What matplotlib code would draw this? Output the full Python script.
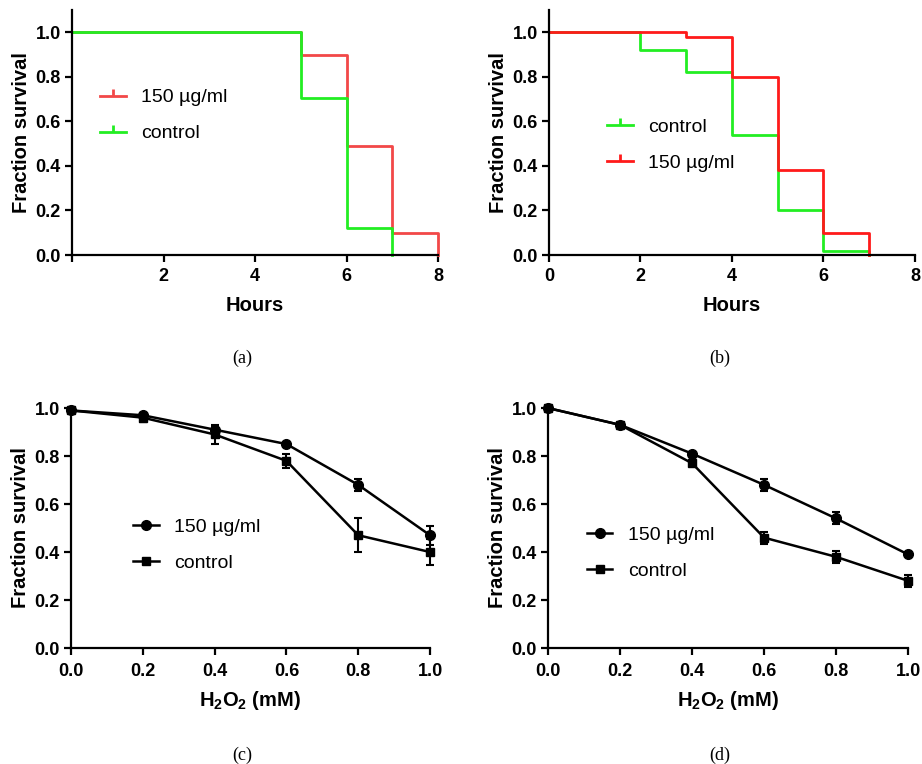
import numpy as np
import matplotlib
import matplotlib.pyplot as plt
from matplotlib.lines import Line2D

plt.rcParams['font.family'] = ['Liberation Sans', 'DejaVu Sans']
plt.rcParams['mathtext.fontset'] = 'custom'
plt.rcParams['mathtext.rm'] = 'Liberation Sans'
plt.rcParams['mathtext.bf'] = 'Liberation Sans:bold'

# (a) survival over time
a_t_treat = [0, 5, 6, 7, 8]
a_s_treat = [1.0, 0.90, 0.49, 0.10, 0.0]
a_t_ctrl = [0, 5, 6, 7]
a_s_ctrl = [1.0, 0.705, 0.12, 0.0]

# (b) survival over time
b_t_treat = [0, 3, 4, 5, 6, 7]
b_s_treat = [1.0, 0.98, 0.80, 0.38, 0.10, 0.0]
b_t_ctrl = [0, 2, 3, 4, 5, 6, 7]
b_s_ctrl = [1.0, 0.92, 0.82, 0.54, 0.20, 0.02, 0.0]

# (c), (d) H2O2 dose response
dose = [0.0, 0.2, 0.4, 0.6, 0.8, 1.0]
c_treat = [0.99, 0.97, 0.91, 0.85, 0.68, 0.47]
c_treat_err = [0.005, 0.01, 0.012, 0.008, 0.025, 0.04]
c_ctrl = [0.99, 0.96, 0.89, 0.78, 0.47, 0.40]
c_ctrl_err = [0.005, 0.02, 0.04, 0.03, 0.07, 0.055]
d_treat = [1.0, 0.93, 0.81, 0.68, 0.54, 0.39]
d_treat_err = [0.003, 0.005, 0.008, 0.025, 0.025, 0.008]
d_ctrl = [1.0, 0.93, 0.77, 0.46, 0.38, 0.28]
d_ctrl_err = [0.003, 0.005, 0.01, 0.025, 0.025, 0.025]

red_a = '#f24848'
red_b = '#ff1a1a'
green = '#22ee22'
ticklabs = ['0.0', '0.2', '0.4', '0.6', '0.8', '1.0']

fig = plt.figure(figsize=(9.22, 7.64), dpi=100)
ax_a = fig.add_axes([0.0781, 0.6662, 0.397, 0.3207])
ax_b = fig.add_axes([0.5954, 0.6662, 0.397, 0.3207])
ax_c = fig.add_axes([0.0770, 0.1518, 0.3894, 0.3141])
ax_d = fig.add_axes([0.5944, 0.1518, 0.3905, 0.3141])


def style(ax, xpad=3):
    for s in ['top', 'right']:
        ax.spines[s].set_visible(False)
    for s in ['left', 'bottom']:
        ax.spines[s].set_linewidth(1.6)
    ax.tick_params(width=1.6, length=5, labelsize=13, pad=3)
    ax.tick_params(axis='x', pad=xpad)
    for lab in ax.get_xticklabels() + ax.get_yticklabels():
        lab.set_fontweight('bold')
    ax.set_ylabel('Fraction survival', fontsize=14.5, fontweight='bold', labelpad=3)


def legend(ax, handles, labels, loc):
    ax.legend(handles, labels, loc='upper left', bbox_to_anchor=loc,
              frameon=False, fontsize=14, handlelength=1.3, handletextpad=0.8,
              labelspacing=0.95)


def km_handles(colors):
    return [Line2D([], [], color=c, lw=2, marker=2, markersize=5, markeredgewidth=2)
            for c in colors]


# (a)
ax_a.step(a_t_treat, a_s_treat, where='post', color=red_a, lw=2, clip_on=False)
ax_a.step(a_t_ctrl, a_s_ctrl, where='post', color=green, lw=2, clip_on=False)
ax_a.set_xlim(0, 8)
ax_a.set_ylim(0, 1.1)
ax_a.set_xticks([0, 2, 4, 6, 8])
ax_a.set_xticklabels(['', '2', '4', '6', '8'])
ax_a.set_yticks([0, 0.2, 0.4, 0.6, 0.8, 1.0])
ax_a.set_yticklabels(ticklabs)
ax_a.set_xlabel('Hours', fontsize=14.5, fontweight='bold', labelpad=8)
style(ax_a, xpad=4)
legend(ax_a, km_handles([red_a, green]), ['150 µg/ml', 'control'], (0.03, 0.75))

# (b)
ax_b.step(b_t_ctrl, b_s_ctrl, where='post', color=green, lw=2, clip_on=False)
ax_b.step(b_t_treat, b_s_treat, where='post', color=red_b, lw=2, clip_on=False)
ax_b.set_xlim(0, 8)
ax_b.set_ylim(0, 1.1)
ax_b.set_xticks([0, 2, 4, 6, 8])
ax_b.set_yticks([0, 0.2, 0.4, 0.6, 0.8, 1.0])
ax_b.set_yticklabels(ticklabs)
ax_b.set_xlabel('Hours', fontsize=14.5, fontweight='bold', labelpad=8)
style(ax_b, xpad=4)
legend(ax_b, km_handles([green, red_b]), ['control', '150 µg/ml'], (0.112, 0.63))

# (c), (d)
for ax, tr, tre, ct, cte, loc in [
        (ax_c, c_treat, c_treat_err, c_ctrl, c_ctrl_err, (0.125, 0.615)),
        (ax_d, d_treat, d_treat_err, d_ctrl, d_ctrl_err, (0.06, 0.58))]:
    ax.errorbar(dose, tr, yerr=tre, color='black', lw=1.8, marker='o', markersize=7,
                capsize=3, capthick=1.5, elinewidth=1.5, clip_on=False)
    ax.errorbar(dose, ct, yerr=cte, color='black', lw=1.8, marker='s', markersize=5.5,
                capsize=3, capthick=1.5, elinewidth=1.5, clip_on=False)
    ax.set_xlim(0, 1.0)
    ax.set_ylim(0, 1.0)
    ax.set_xticks(dose)
    ax.set_xticklabels(ticklabs)
    ax.set_yticks([0, 0.2, 0.4, 0.6, 0.8, 1.0])
    ax.set_yticklabels(ticklabs)
    ax.set_xlabel(r'$\mathbf{H_2O_2}$ (mM)', fontsize=14.5, fontweight='bold', labelpad=6)
    style(ax, xpad=6)
    handles = [Line2D([], [], color='black', lw=1.8, marker='o', markersize=7),
               Line2D([], [], color='black', lw=1.8, marker='s', markersize=5.5)]
    legend(ax, handles, ['150 µg/ml', 'control'], loc)

for x, y, s in [(242, 358, '(a)'), (720, 358, '(b)'), (242, 755, '(c)'), (720, 755, '(d)')]:
    fig.text(x / 922, 1 - y / 764, s, ha='center', va='center', fontsize=13,
             family='Liberation Serif')

fig.savefig('out.png', dpi=100)
